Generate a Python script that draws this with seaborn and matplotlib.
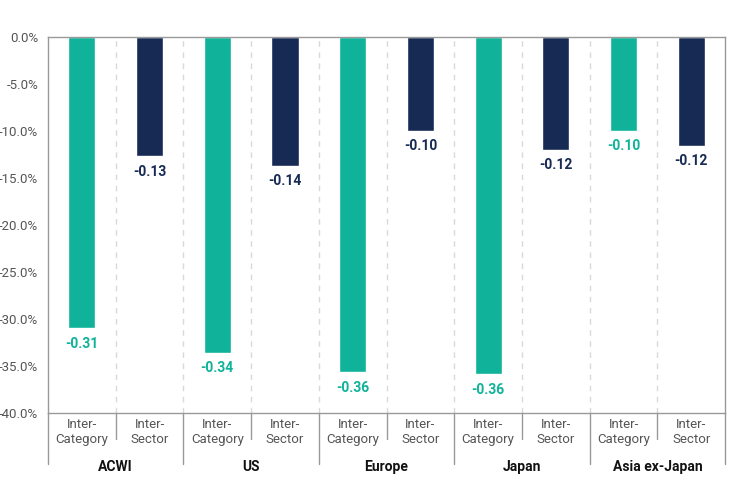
import pandas as pd
import numpy as np
import matplotlib
matplotlib.use("Agg")
import matplotlib.pyplot as plt
import matplotlib.transforms as mtransforms
from matplotlib.ticker import FuncFormatter
import seaborn as sns

# -----------------------------
# Data
# -----------------------------
regions = ['ACWI', 'US', 'Europe', 'Japan', 'Asia ex-Japan']
measures = ['Inter-Category', 'Inter-Sector']
tick_names = ['Inter-\nCategory', 'Inter-\nSector']
inter_category = [-0.310, -0.336, -0.357, -0.359, -0.100]
inter_sector = [-0.127, -0.137, -0.100, -0.120, -0.116]

teal = '#10b39a'
navy = '#172a54'

rows = []
for i, r in enumerate(regions):
    rows.append({'slot': f'{r}|{measures[0]}', 'measure': measures[0], 'value': inter_category[i]})
    rows.append({'slot': f'{r}|{measures[1]}', 'measure': measures[1], 'value': inter_sector[i]})
df = pd.DataFrame(rows)

sns.set_style('white')
plt.rcParams['font.family'] = ['Roboto', 'DejaVu Sans']
plt.rcParams['axes.unicode_minus'] = False

fig = plt.figure(figsize=(7.37, 4.8), dpi=100)
ax = fig.add_axes([0.065, 0.140, 0.919, 0.783])

sns.barplot(data=df, x='slot', y='value', hue='measure', dodge=False,
            palette={measures[0]: teal, measures[1]: navy}, width=0.4,
            saturation=1, legend=False, ax=ax)

# value labels under each bar
for i, row in df.iterrows():
    c = teal if row['measure'] == measures[0] else navy
    ax.annotate(f"{row['value']:.2f}", (i, row['value']), xytext=(0, -6),
                textcoords='offset points', ha='center', va='top',
                fontsize=10, fontweight='bold', color=c)

ax.set_xlim(-0.5, len(df) - 0.5)
ax.set_ylim(-0.40, 0)
ax.set_yticks(np.linspace(-0.40, 0, 9))
ax.yaxis.set_major_formatter(FuncFormatter(lambda v, p: f"{round(v * 100, 1) + 0.0:.1f}%"))
ax.tick_params(axis='y', length=0, pad=7, labelsize=9.5, labelcolor='#555555')
ax.tick_params(axis='x', length=0, pad=4, labelsize=9.5, labelcolor='#555555')
ax.set_xticks(range(len(df)))
ax.set_xticklabels(tick_names * len(regions), linespacing=1.2)
ax.set_xlabel('')
ax.set_ylabel('')

for s in ['top', 'right', 'bottom', 'left']:
    ax.spines[s].set_color('#999999')
    ax.spines[s].set_linewidth(1)

# dashed separators between bars
for k in range(1, len(df)):
    ax.axvline(k - 0.5, color='#d9d9d9', linestyle=(0, (4, 4)), linewidth=1, zorder=0)

# separator lines below the axis
trans = mtransforms.blended_transform_factory(ax.transData, ax.transAxes)
for k in range(len(df) + 1):
    y_end = -0.136 if k % 2 == 0 else -0.069
    ax.plot([k - 0.5, k - 0.5], [0, y_end], transform=trans, color='#999999',
            linewidth=1, clip_on=False)

# region names
for i, r in enumerate(regions):
    ax.text(2 * i + 0.5, -0.143, r, transform=trans, ha='center', va='center',
            fontsize=10, fontweight='bold', color='#111111')

fig.savefig('out.png', dpi=100)
